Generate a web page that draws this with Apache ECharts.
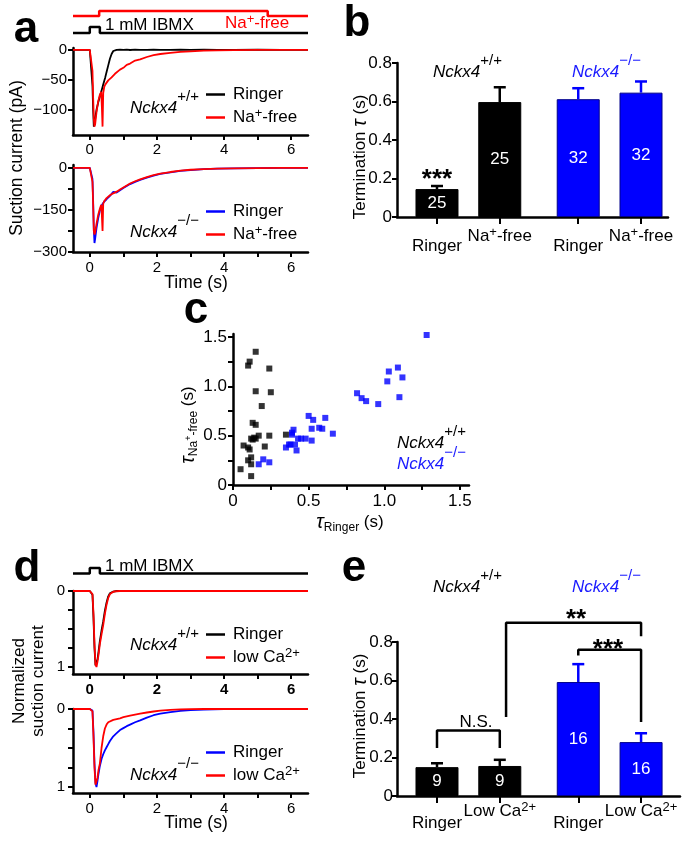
<!DOCTYPE html>
<html><head><meta charset="utf-8">
<script src="https://cdn.jsdelivr.net/npm/echarts@6/dist/echarts.min.js"></script>
<style>html,body{margin:0;padding:0;background:#fff}#c{width:691px;height:842px}</style>
</head><body><div id="c"></div>
<script>
// ===================== DATA =====================
// Panel a: suction current traces (pA) vs time (s)
const aTime = [-0.5, 0, 0.04, 0.08, 0.1, 0.12, 0.14, 0.16, 0.2, 0.25, 0.3, 0.34, 0.36, 0.38, 0.4, 0.43, 0.46, 0.5, 0.55, 0.6, 0.65, 0.7, 0.75, 0.8, 0.9, 1.0, 1.1, 1.2, 1.35, 1.5, 1.7, 1.9, 2.1, 2.4, 2.7, 3.0, 3.4, 3.8, 4.3, 5.0, 5.7, 6.5];
const aWtRinger = [0, 0, 0, -60, -100, -128, -124, -115, -100, -88, -78, -70, -66, -62, -58, -52, -46, -37, -26, -15, -7, -2, -0.5, 0, 0.3, -0.2, 0.2, -0.3, 0.2, 0, -0.2, 0.2, 0, -0.2, 0.1, 0, 0.2, -0.1, 0, 0.1, 0, 0];
const aWtNaFree = [0, 0, 0, -35, -80, -115, -128, -124, -104, -86, -75, -70, -95, -128, -72, -62, -58, -56, -51, -50, -46, -45, -40, -39, -33, -30, -25, -23, -18, -16, -12, -9, -7, -5, -3.5, -2.5, -1.5, -1, -0.5, 0, 0, 0];
const aKoRinger = [0, 0, 0, -40, -120, -220, -268, -252, -215, -180, -152, -138, -133, -129, -124, -120, -116, -112, -106, -100, -95, -86, -92, -88, -80, -72, -65, -58, -50, -43, -35, -28, -22, -16, -11, -8, -5, -3, -2, -1, -0.5, 0];
const aKoNaFree = [0, 0, 0, -50, -130, -225, -238, -230, -200, -168, -146, -132, -170, -225, -128, -119, -114, -108, -103, -98, -94, -91, -88, -85, -77, -70, -63, -56, -48, -41, -33, -26, -21, -15, -10, -7, -4.5, -3, -2, -1, -0.5, 0];

// Solution protocol (0 = off, 1 = on)
const ibmxTime = [-0.5, 0, 0, 0.3, 0.3, 6.5];
const ibmxLevel = [0, 0, 1, 1, 0, 0];
const naFreeTime = [-0.5, 0.28, 0.28, 5.3, 5.3, 6.5];
const naFreeLevel = [0, 0, 1, 1, 0, 0];

// Panel b: termination tau (s)
const bCategories = ['Ringer', 'Na+-free', 'Ringer', 'Na+-free'];
const bMean = [0.145, 0.597, 0.612, 0.646];
const bSem = [0.016, 0.077, 0.057, 0.058];
const bN = [25, 25, 32, 32];
const bGenotype = ['wt', 'wt', 'ko', 'ko'];

// Panel c: tau Na-free vs tau Ringer per cell
const cWtRinger = [0.05, 0.07, 0.10, 0.11, 0.10, 0.12, 0.12, 0.12, 0.10, 0.11, 0.15, 0.15, 0.13, 0.15, 0.13, 0.15, 0.17, 0.19, 0.24, 0.25, 0.24, 0.21, 0.35, 0.14, 0.12];
const cWtNaFree = [0.16, 0.40, 0.38, 0.36, 0.25, 0.28, 0.21, 0.09, 1.21, 1.25, 1.35, 0.95, 0.63, 0.61, 0.46, 0.47, 0.50, 0.80, 1.18, 0.94, 0.50, 0.39, 0.51, 0.48, 0.47];
const cKoRinger = [0.17, 0.20, 0.24, 0.35, 0.37, 0.38, 0.39, 0.40, 0.39, 0.41, 0.42, 0.45, 0.48, 0.50, 0.52, 0.52, 0.53, 0.57, 0.59, 0.61, 0.66, 0.82, 0.85, 0.88, 0.96, 1.02, 1.03, 1.09, 1.12, 1.10, 1.28, 0.43];
const cKoNaFree = [0.21, 0.26, 0.23, 0.38, 0.41, 0.41, 0.51, 0.56, 0.53, 0.41, 0.35, 0.47, 0.47, 0.70, 0.45, 0.57, 0.66, 0.58, 0.57, 0.68, 0.52, 0.93, 0.88, 0.85, 0.82, 1.05, 1.15, 1.19, 1.09, 0.89, 1.52, 0.47];

// Panel d: normalized suction current traces
const dTime = [-0.5, 0, 0.05, 0.08, 0.11, 0.14, 0.17, 0.2, 0.23, 0.26, 0.3, 0.35, 0.4, 0.45, 0.5, 0.55, 0.6, 0.7, 0.8, 0.9, 1.0, 1.1, 1.2, 1.35, 1.5, 1.7, 1.9, 2.1, 2.4, 2.7, 3.0, 3.4, 4.0, 5.0, 6.0, 6.5];
const dWtRinger = [0, 0, 0, 0.05, 0.35, 0.75, 0.98, 0.97, 0.9, 0.8, 0.66, 0.52, 0.4, 0.26, 0.15, 0.07, 0.03, 0.008, 0, 0, 0, 0, 0, 0, 0, 0, 0, 0, 0, 0, 0, 0, 0, 0, 0, 0];
const dWtLowCa = [0, 0, 0, 0.04, 0.3, 0.7, 0.97, 1.0, 0.93, 0.84, 0.7, 0.57, 0.45, 0.3, 0.18, 0.09, 0.04, 0.01, 0.003, 0, 0, 0, 0, 0, 0, 0, 0, 0, 0, 0, 0, 0, 0, 0, 0, 0];
const dKoRinger = [0, 0, 0, 0.02, 0.3, 0.7, 0.95, 1.0, 0.92, 0.83, 0.73, 0.64, 0.58, 0.53, 0.49, 0.45, 0.41, 0.35, 0.31, 0.27, 0.245, 0.22, 0.2, 0.17, 0.145, 0.11, 0.08, 0.06, 0.04, 0.025, 0.015, 0.007, 0, 0, 0, 0];
const dKoLowCa = [0, 0, 0, 0.03, 0.35, 0.75, 0.97, 0.99, 0.88, 0.78, 0.7, 0.5, 0.35, 0.25, 0.2, 0.17, 0.155, 0.14, 0.13, 0.12, 0.105, 0.095, 0.085, 0.072, 0.06, 0.045, 0.032, 0.022, 0.012, 0.006, 0.002, 0, 0, 0, 0, 0];

// Panel e: termination tau (s)
const eCategories = ['Ringer', 'Low Ca2+', 'Ringer', 'Low Ca2+'];
const eMean = [0.15, 0.156, 0.592, 0.28];
const eSem = [0.02, 0.032, 0.093, 0.046];
const eN = [9, 9, 16, 16];
const eGenotype = ['wt', 'wt', 'ko', 'ko'];

// Tick values / labels
const traceXTicks = [0, 1, 2, 3, 4, 5, 6];
const traceXLabels = [0, 2, 4, 6];
const aTopYTicks = [0, -50, -100];
const aBotYTicks = [0, -75, -150, -225, -300];
const aBotYLabels = [0, -150, -300];
const normYTicks = [0, 0.25, 0.5, 0.75, 1];
const normYLabels = [0, 1];
const cTicks = [0, 0.25, 0.5, 0.75, 1, 1.25, 1.5];
const cLabels = [0, 0.5, 1, 1.5];

// ===================== STYLE / LAYOUT =====================
const BLACK = '#000000', RED = '#ff0000', BLUE = '#0000ff', BLUE_TXT = '#1a1aff';
const FONT = '"Liberation Sans", Arial, Helvetica, sans-serif';
const genoColor = g => g === 'wt' ? BLACK : BLUE;
const barSlots = [1, 2, 3.25, 4.25]; // horizontal layout slots of the 4 bars

const zip = (xs, ys) => xs.map((x, i) => [x, ys[i]]);

function R(size) {
  return {
    n: {fontSize: size, fontFamily: FONT},
    i: {fontSize: size, fontFamily: FONT, fontStyle: 'italic'},
    gs: {fontSize: size - 2, fontFamily: FONT, padding: [0, 0, 22, 0]},
    s: {fontSize: size - 4, fontFamily: FONT, padding: [0, 0, 8, 0]},
    b: {fontSize: size - 5, fontFamily: FONT, padding: [12, 0, 0, 0]},
    bs: {fontSize: size - 8, fontFamily: FONT, padding: [2, 0, 0, 0]},
    t: {fontSize: size + 3, fontFamily: FONT, fontStyle: 'italic'},
    lo: {fontSize: size, fontFamily: FONT, padding: [12, 0, 0, 0]},
    lo2: {fontSize: size, fontFamily: FONT, padding: [14, 0, 0, 0]}
  };
}
function richLabel(label, tok) {
  const m = label.match(/^(.*?)(\d?\+)(.*)$/);
  if (!m) return '{' + (tok || 'n') + '|' + label + '}';
  let s = '{n|' + m[1] + '}{s|' + m[2] + '}';
  if (m[3]) s += '{n|' + m[3] + '}';
  return s;
}
const geno = g => g === 'wt' ? '{i|Nckx4}{gs|+/+}' : '{i|Nckx4}{gs|\u2212/\u2212}';
const minus = v => String(v).replace('-', '\u2212');

function axis(kind, gi, o) {
  return {
    type: 'value', gridIndex: gi, min: o.min, max: o.max, inverse: !!o.inverse,
    interval: o.interval,
    position: kind === 'x' ? 'bottom' : 'left',
    axisLine: {show: true, onZero: false, lineStyle: {color: BLACK, width: 2.5}},
    axisTick: {show: true, inside: false, length: o.tickLen || 5, lineStyle: {color: BLACK, width: 2}, customValues: o.ticks},
    axisLabel: {show: true, color: BLACK, fontSize: o.fs, fontFamily: FONT, fontWeight: o.bold ? 'bold' : 'normal',
      margin: o.margin, customValues: o.labels, formatter: o.fmt, rich: R(o.fs)},
    splitLine: {show: false}, minorTick: {show: false}
  };
}
const hidden = (gi, min, max) => ({type: 'value', gridIndex: gi, min, max, show: false});

function catFmt(slots, cats, lowTok) {
  return v => {
    const i = slots.findIndex(s => Math.abs(s - v) < 1e-6);
    if (i < 0) return '';
    const c = cats[i];
    return c === 'Ringer' ? '{' + lowTok + '|Ringer}' : richLabel(c);
  };
}

function errRender(colors) {
  return function (params, api) {
    const x = api.value(0), m = api.value(1), e = api.value(2);
    const p0 = api.coord([x, m]), p1 = api.coord([x, m + e]);
    const st = {stroke: colors[params.dataIndex], lineWidth: 2.5};
    return {type: 'group', children: [
      {type: 'line', shape: {x1: p0[0], y1: p0[1], x2: p1[0], y2: p1[1]}, style: st},
      {type: 'line', shape: {x1: p1[0] - 6, y1: p1[1], x2: p1[0] + 6, y2: p1[1]}, style: st}
    ]};
  };
}

function barSeries(gi, mean, n, genos) {
  return {
    type: 'bar', xAxisIndex: gi, yAxisIndex: gi, barWidth: 43, z: 2,
    data: mean.map((m, i) => ({value: [barSlots[i], m],
      itemStyle: {color: genoColor(genos[i]), borderColor: genos[i] === 'wt' ? BLACK : '#00008a', borderWidth: 1}})),
    label: {show: true, position: 'inside', color: '#fff', fontSize: 17, fontFamily: FONT,
      formatter: p => String(n[p.dataIndex])}
  };
}
function errSeries(gi, mean, sem, genos) {
  return {
    type: 'custom', xAxisIndex: gi, yAxisIndex: gi, z: 3, clip: false,
    renderItem: errRender(genos.map(genoColor)),
    encode: {x: 0, y: 1},
    data: mean.map((m, i) => [barSlots[i], m, sem[i]])
  };
}
function trace(name, gi, t, v, color) {
  return {type: 'line', name, xAxisIndex: gi, yAxisIndex: gi, data: zip(t, v), symbol: 'none', showSymbol: false,
    lineStyle: {color, width: 1.8}, itemStyle: {color}, z: 3};
}
function stim(gi, t, v, color) {
  return {type: 'line', xAxisIndex: gi, yAxisIndex: gi, data: zip(t, v), symbol: 'none',
    lineStyle: {color, width: 2.5}, clip: false, silent: true};
}
function bracket(pts) {
  return {type: 'line', xAxisIndex: 9, yAxisIndex: 9, data: pts, symbol: 'none', clip: false,
    lineStyle: {color: BLACK, width: 2.5}, z: 4, silent: true};
}
function legend(names, top) {
  return {data: names.map(n => ({name: n, icon: 'rect'})), left: 206, top, orient: 'vertical', itemGap: 4,
    itemWidth: 19, itemHeight: 2.5, padding: 0, selectedMode: false,
    textStyle: {fontSize: 17, fontFamily: FONT, color: BLACK, rich: R(17), padding: [0, 0, 0, 3]},
    formatter: nm => richLabel(nm.split('|')[1])};
}
function T(x, y, text, size, o = {}) {
  const al = o.align || 'left';
  return {type: 'text', x, y, rotation: o.rot || 0, silent: true, z: 100,
    style: {text, fill: o.color || BLACK, fontSize: size, fontFamily: FONT,
      fontWeight: o.weight || 'normal', fontStyle: o.italic ? 'italic' : 'normal',
      align: al, textAlign: al, verticalAlign: 'middle', textVerticalAlign: 'middle',
      lineHeight: o.lh, rich: R(size)}};
}

const gridBase = {containLabel: false, outerBoundsMode: 'none'};
const grids = [
  {left: 73, width: 235, top: 11, height: 5},      // 0 a Na-free protocol
  {left: 73, width: 235, top: 27, height: 6},      // 1 a IBMX protocol
  {left: 73, width: 235, top: 48, height: 87},     // 2 a upper
  {left: 73, width: 235, top: 165, height: 87},    // 3 a lower
  {left: 397, width: 271, top: 63, height: 154},   // 4 b
  {left: 233, width: 236, top: 334, height: 151},  // 5 c
  {left: 73, width: 235, top: 568, height: 5.5},   // 6 d IBMX protocol
  {left: 73, width: 235, top: 591, height: 83},    // 7 d upper
  {left: 73, width: 235, top: 709, height: 84},    // 8 d lower
  {left: 397, width: 283, top: 642, height: 154}   // 9 e
].map(g => Object.assign({}, gridBase, g));

const yFmt1 = v => v === 0 ? '0' : v.toFixed(1);

const xAxes = [
  hidden(0, -0.5, 6.5), hidden(1, -0.5, 6.5),
  axis('x', 2, {min: -0.5, max: 6.5, ticks: traceXTicks, labels: traceXLabels, fs: 15, margin: 7}),
  axis('x', 3, {min: -0.5, max: 6.5, ticks: traceXTicks, labels: traceXLabels, fs: 15, margin: 8}),
  axis('x', 4, {min: 0.363, max: 4.68, ticks: barSlots, labels: barSlots, fs: 17, margin: 9, tickLen: 7,
    fmt: catFmt(barSlots, bCategories, 'lo')}),
  axis('x', 5, {min: 0, max: 1.56, ticks: cTicks, labels: cLabels, fs: 17, margin: 8, fmt: yFmt1}),
  hidden(6, -0.5, 6.5),
  axis('x', 7, {min: -0.5, max: 6.5, ticks: traceXTicks, labels: traceXLabels, fs: 15, margin: 8, bold: true}),
  axis('x', 8, {min: -0.5, max: 6.5, ticks: traceXTicks, labels: traceXLabels, fs: 15, margin: 8}),
  axis('x', 9, {min: 0.363, max: 4.87, ticks: barSlots, labels: barSlots, fs: 17, margin: 5, tickLen: 7,
    fmt: catFmt(barSlots, eCategories, 'lo2')})
];
const yAxes = [
  hidden(0, 0, 1), hidden(1, 0, 1),
  axis('y', 2, {min: -142, max: 3, ticks: aTopYTicks, labels: aTopYTicks, fs: 15, margin: 6, fmt: minus}),
  axis('y', 3, {min: -300, max: 10, ticks: aBotYTicks, labels: aBotYLabels, fs: 15, margin: 6, fmt: minus}),
  axis('y', 4, {min: 0, max: 0.8, interval: 0.2, fs: 17, margin: 5, fmt: yFmt1}),
  axis('y', 5, {min: 0, max: 1.53, ticks: cTicks, labels: cLabels, fs: 17, margin: 6, fmt: yFmt1}),
  hidden(6, 0, 1),
  axis('y', 7, {min: 0, max: 1.092, inverse: true, ticks: normYTicks, labels: normYLabels, fs: 15, margin: 8, fmt: String}),
  axis('y', 8, {min: 0, max: 1.077, inverse: true, ticks: normYTicks, labels: normYLabels, fs: 15, margin: 8, fmt: String}),
  axis('y', 9, {min: 0, max: 0.8, interval: 0.2, fs: 17, margin: 4, fmt: yFmt1})
];

const series = [
  stim(0, naFreeTime, naFreeLevel, RED),
  stim(1, ibmxTime, ibmxLevel, BLACK),
  trace('a1|Ringer', 2, aTime, aWtRinger, BLACK),
  trace('a1|Na+-free', 2, aTime, aWtNaFree, RED),
  trace('a2|Ringer', 3, aTime, aKoRinger, BLUE),
  trace('a2|Na+-free', 3, aTime, aKoNaFree, RED),
  barSeries(4, bMean, bN, bGenotype),
  errSeries(4, bMean, bSem, bGenotype),
  {type: 'scatter', xAxisIndex: 5, yAxisIndex: 5, symbol: 'rect', symbolSize: 6, itemStyle: {color: BLACK}, data: zip(cWtRinger, cWtNaFree)},
  {type: 'scatter', xAxisIndex: 5, yAxisIndex: 5, symbol: 'rect', symbolSize: 6, itemStyle: {color: BLUE}, data: zip(cKoRinger, cKoNaFree)},
  stim(6, ibmxTime, ibmxLevel, BLACK),
  trace('d1|Ringer', 7, dTime, dWtRinger, BLACK),
  trace('d1|low Ca2+', 7, dTime, dWtLowCa, RED),
  trace('d2|Ringer', 8, dTime, dKoRinger, BLUE),
  trace('d2|low Ca2+', 8, dTime, dKoLowCa, RED),
  barSeries(9, eMean, eN, eGenotype),
  errSeries(9, eMean, eSem, eGenotype),
  bracket([[1, 0.25], [1, 0.34], [2, 0.34], [2, 0.25]]),
  bracket([[2.1, 0.41], [2.1, 0.9], [4.25, 0.9], [4.25, 0.83]]),
  bracket([[3.25, 0.73], [3.25, 0.76], [4.25, 0.76], [4.25, 0.385]])
];

const HALF_PI = Math.PI / 2;
const texts = [
  T(26, 30, 'a', 44, {weight: 'bold', align: 'center'}),
  T(357, 24, 'b', 44, {weight: 'bold', align: 'center'}),
  T(196, 311, 'c', 44, {weight: 'bold', align: 'center'}),
  T(27, 569, 'd', 44, {weight: 'bold', align: 'center'}),
  T(354, 569, 'e', 44, {weight: 'bold', align: 'center'}),
  T(105, 25, '1 mM IBMX', 17),
  T(225, 23, richLabel('Na+-free'), 17, {color: RED}),
  T(105, 566, '1 mM IBMX', 17),
  T(130, 108, geno('wt'), 17),
  T(130, 232, geno('ko'), 17),
  T(130, 645, geno('wt'), 17),
  T(130, 775, geno('ko'), 17),
  T(433, 72, geno('wt'), 17),
  T(572, 72, geno('ko'), 17, {color: BLUE_TXT}),
  T(397, 443, geno('wt'), 17),
  T(397, 464, geno('ko'), 17, {color: BLUE_TXT}),
  T(433, 587, geno('wt'), 17),
  T(572, 587, geno('ko'), 17, {color: BLUE_TXT}),
  T(17, 158, 'Suction current (pA)', 17.5, {rot: HALF_PI, align: 'center'}),
  T(196, 283, 'Time (s)', 17.5, {align: 'center'}),
  T(196, 823, 'Time (s)', 17.5, {align: 'center'}),
  T(29, 681, 'Normalized\nsuction current', 17, {rot: HALF_PI, align: 'center', lh: 19}),
  T(360, 157, '{n|Termination }{t|τ}{n| (s)}', 17, {rot: HALF_PI, align: 'center'}),
  T(360, 716, '{n|Termination }{t|τ}{n| (s)}', 17, {rot: HALF_PI, align: 'center'}),
  T(350, 522, '{t|τ}{b|Ringer}{n| (s)}', 17, {align: 'center'}),
  T(188, 425, '{t|τ}{b|Na}{bs|+}{b|-free}{n| (s)}', 17, {rot: HALF_PI, align: 'center'}),
  T(437, 180, '***', 26, {weight: 'bold', align: 'center'}),
  T(576, 620, '**', 26, {weight: 'bold', align: 'center'}),
  T(608, 650, '***', 26, {weight: 'bold', align: 'center'}),
  T(476, 722, 'N.S.', 17, {align: 'center'})
];

const chart = echarts.init(document.getElementById('c'), null, {renderer: 'canvas'});
chart.setOption({
  animation: false,
  backgroundColor: '#ffffff',
  textStyle: {fontFamily: FONT},
  grid: grids,
  xAxis: xAxes,
  yAxis: yAxes,
  legend: [
    legend(['a1|Ringer', 'a1|Na+-free'], 86),
    legend(['a2|Ringer', 'a2|Na+-free'], 203),
    legend(['d1|Ringer', 'd1|low Ca2+'], 626),
    legend(['d2|Ringer', 'd2|low Ca2+'], 744)
  ],
  series,
  graphic: {elements: texts}
});
</script>
</body></html>
